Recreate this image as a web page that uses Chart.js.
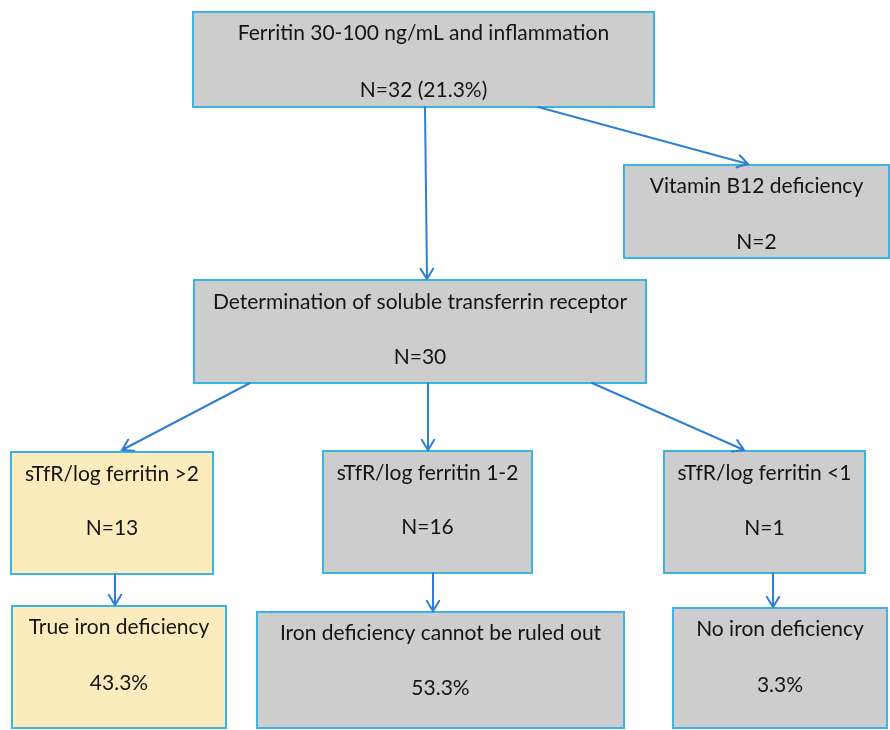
<!DOCTYPE html>
<html lang="en">
<head>
  <meta charset="UTF-8" />
  <title>Ferritin 30-100 ng/mL and inflammation – flow chart</title>
  <script src="https://cdn.jsdelivr.net/npm/chart.js"></script>
  <style>
    html, body { margin: 0; padding: 0; background: #fff; }
    #wrap { width: 890px; height: 730px; }
  </style>
</head>
<body>
  <div id="wrap"><canvas id="flowChart" width="890" height="730"></canvas></div>

  <script>
    // --- datos del diagrama ---
    const stepLabels = [
      'Ferritin 30-100 ng/mL and inflammation',
      'Vitamin B12 deficiency',
      'Determination of soluble transferrin receptor',
      'sTfR/log ferritin >2',
      'sTfR/log ferritin 1-2',
      'sTfR/log ferritin <1',
      'True iron deficiency',
      'Iron deficiency cannot be ruled out',
      'No iron deficiency'
    ];
    const stepCounts = [32, 2, 30, 13, 16, 1];          // N por paso
    const stepSharePct = [21.3];                         // % del primer paso
    const outcomePct = [43.3, 53.3, 3.3];                // resultados finales
    const links = [[0, 1], [0, 2], [2, 3], [2, 4], [2, 5], [3, 6], [4, 7], [5, 8]];
    const highlighted = [3, 6];                          // cajas amarillas

    // texto del segundo renglón de cada caja
    const stepValues = stepLabels.map((_, i) => {
      if (i === 0) return 'N=' + stepCounts[0] + ' (' + stepSharePct[0].toFixed(1) + '%)';
      if (i < stepCounts.length) return 'N=' + stepCounts[i];
      return outcomePct[i - stepCounts.length].toFixed(1) + '%';
    });

    // --- posiciones (en unidades del eje, 0..890 x 0..730) ---
    const boxes = [
      { x0: 193, y0: 12,  x1: 654, y1: 107, t1: 33,  t2: 90 },
      { x0: 624, y0: 165, x1: 889, y1: 258, t1: 186, t2: 242 },
      { x0: 194, y0: 280, x1: 646, y1: 383, t1: 302, t2: 357 },
      { x0: 11,  y0: 452, x1: 213, y1: 574, t1: 474, t2: 528 },
      { x0: 323, y0: 451, x1: 532, y1: 573, t1: 473, t2: 527 },
      { x0: 664, y0: 451, x1: 865, y1: 573, t1: 473, t2: 528 },
      { x0: 12,  y0: 606, x1: 226, y1: 728, t1: 627, t2: 683 },
      { x0: 257, y0: 612, x1: 624, y1: 728, t1: 633, t2: 688 },
      { x0: 673, y0: 608, x1: 887, y1: 728, t1: 629, t2: 685 }
    ];
    const arrows = [
      [538, 107, 748, 164],
      [425, 107, 427, 279],
      [250, 383, 122, 450],
      [428, 383, 428, 450],
      [592, 383, 744, 450],
      [115, 574, 115, 605],
      [433, 573, 433, 611],
      [773, 573, 773, 607]
    ];

    const flowPlugin = {
      id: 'flow',
      beforeDraw(chart) {
        const { ctx, width, height } = chart;
        ctx.save();
        ctx.fillStyle = '#ffffff';
        ctx.fillRect(0, 0, width, height);
        ctx.restore();
      },
      afterDatasetsDraw(chart) {
        const { ctx } = chart;
        const sx = chart.scales.x, sy = chart.scales.y;
        const px = v => sx.getPixelForValue(v);
        const py = v => sy.getPixelForValue(v);

        ctx.save();
        // cajas
        boxes.forEach((b, i) => {
          const x0 = px(b.x0), x1 = px(b.x1), y0 = py(b.y0), y1 = py(b.y1);
          ctx.fillStyle = highlighted.includes(i) ? '#fcecbd' : '#cdcdcd';
          ctx.fillRect(x0, y0, x1 - x0, y1 - y0);
          ctx.strokeStyle = '#3cb3e3';
          ctx.lineWidth = 2;
          ctx.strokeRect(x0, y0, x1 - x0, y1 - y0);

          ctx.fillStyle = '#141414';
          ctx.font = '21px Lato, "Open Sans", sans-serif';
          ctx.textAlign = 'center';
          ctx.textBaseline = 'middle';
          const cx = (x0 + x1) / 2;
          ctx.fillText(stepLabels[i], cx, py(b.t1));
          ctx.fillText(stepValues[i], cx, py(b.t2));
        });

        // flechas
        ctx.strokeStyle = '#2f7fd2';
        ctx.lineWidth = 2;
        ctx.lineCap = 'round';
        arrows.forEach(a => {
          const x0 = px(a[0]), y0 = py(a[1]), x1 = px(a[2]), y1 = py(a[3]);
          const ang = Math.atan2(y1 - y0, x1 - x0);
          const L = 12, spread = 0.55;
          ctx.beginPath();
          ctx.moveTo(x0, y0);
          ctx.lineTo(x1, y1);
          ctx.moveTo(x1 - L * Math.cos(ang - spread), y1 - L * Math.sin(ang - spread));
          ctx.lineTo(x1, y1);
          ctx.lineTo(x1 - L * Math.cos(ang + spread), y1 - L * Math.sin(ang + spread));
          ctx.stroke();
        });
        ctx.restore();
      }
    };

    new Chart(document.getElementById('flowChart').getContext('2d'), {
      type: 'scatter',
      data: {
        datasets: [{
          label: 'pasos',
          data: links.map(l => ({ x: (boxes[l[1]].x0 + boxes[l[1]].x1) / 2, y: boxes[l[1]].y0 })),
          pointRadius: 0,
          showLine: false
        }]
      },
      options: {
        responsive: false,
        animation: false,
        layout: { padding: 0 },
        plugins: { legend: { display: false }, tooltip: { enabled: false } },
        scales: {
          x: { type: 'linear', min: 0, max: 890, display: false },
          y: { type: 'linear', min: 0, max: 730, reverse: true, display: false }
        }
      },
      plugins: [flowPlugin]
    });
  </script>
</body>
</html>
